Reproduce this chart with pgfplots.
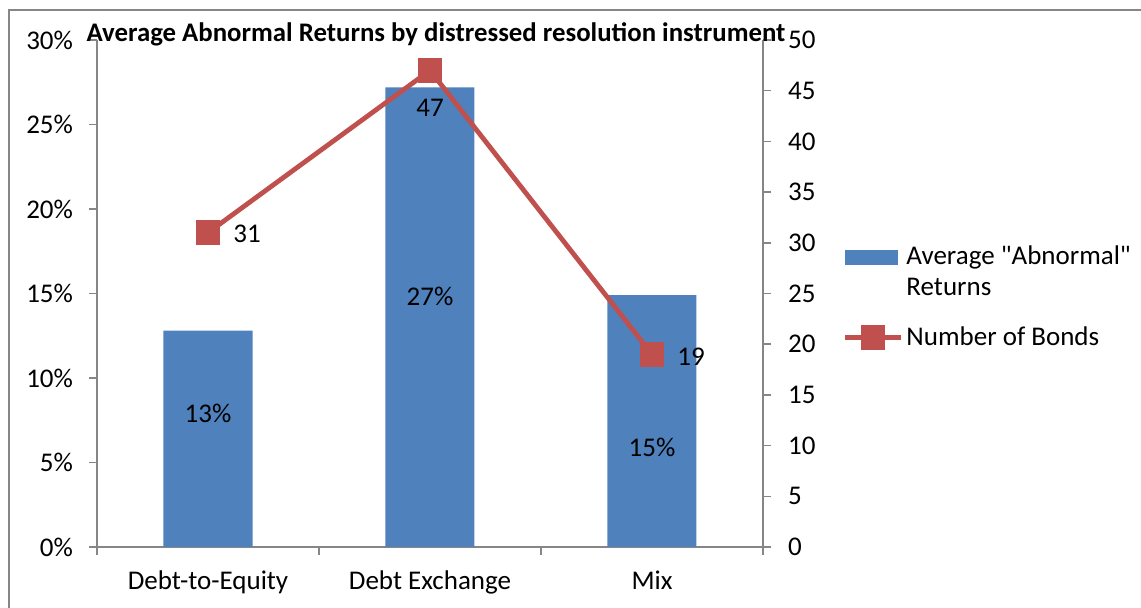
\documentclass[border=0pt]{standalone}
\usepackage{pgfplots}
\pgfplotsset{compat=1.18}
\usepackage{fontspec}
\setmainfont{Carlito}
\definecolor{barblue}{HTML}{4F81BD}
\definecolor{linered}{HTML}{C0504D}
\definecolor{axgray}{HTML}{868686}
\newcommand{\lblfont}{\fontsize{13.5}{15.5}\selectfont}
\begin{document}
\begin{tikzpicture}[x=1pt,y=1pt]
\useasboundingbox (0,0) rectangle (570.5,304);
\draw[axgray, line width=0.75pt] (4.5,0) -- (4.5,299) -- (570.5,299);
\begin{axis}[
  at={(48.5pt,30.5pt)}, anchor=south west,
  width=333pt, height=253.5pt, scale only axis,
  xmin=-0.5, xmax=2.5, ymin=0, ymax=30,
  axis y line*=left, axis x line*=bottom,
  axis line style={axgray, line width=0.75pt, -},
  xtick={-0.5,0.5,1.5,2.5}, xticklabels={},
  ytick={0,5,10,15,20,25,30}, yticklabels={0\%,5\%,10\%,15\%,20\%,25\%,30\%},
  tick align=outside, major tick length=4pt,
  every tick/.style={axgray, line width=0.75pt},
  ticklabel style={font=\lblfont},
  yticklabel style={xshift=-4.5pt},
  clip=false,
]
\addplot[ybar, bar width=44.5pt, fill=barblue, draw=none] coordinates {(0,12.8) (1,27.2) (2,14.9)};
\node[font=\lblfont] at (axis cs:0,7.93) {13\%};
\node[font=\lblfont] at (axis cs:1,14.85) {27\%};
\node[font=\lblfont] at (axis cs:2,5.92) {15\%};
\node[font=\lblfont, anchor=base] at (axis cs:0,0) [yshift=-21.5pt] {Debt-to-Equity};
\node[font=\lblfont, anchor=base] at (axis cs:1,0) [yshift=-21.5pt] {Debt Exchange};
\node[font=\lblfont, anchor=base] at (axis cs:2,0) [yshift=-21.5pt] {Mix};
\end{axis}
\begin{axis}[
  at={(48.5pt,30.5pt)}, anchor=south west,
  width=333pt, height=253.5pt, scale only axis,
  xmin=-0.5, xmax=2.5, ymin=0, ymax=50,
  axis y line*=right, axis x line=none,
  axis line style={axgray, line width=0.75pt, -},
  ytick={0,5,10,15,20,25,30,35,40,45,50},
  yticklabels={0,5,10,15,20,25,30,35,40,45,50},
  tick align=outside, major tick length=4pt,
  every tick/.style={axgray, line width=0.75pt},
  ticklabel style={font=\lblfont},
  yticklabel style={xshift=5pt},
  clip=false,
  legend cell align=left,
  legend style={at={(1.119,0.493)}, anchor=west, draw=none, fill=none, inner sep=0pt,
    font=\lblfont, nodes={align=left, inner xsep=1.5pt}, row sep=10pt,
    /tikz/every even column/.append style={column sep=0pt}},
]
\addlegendimage{legend image code/.code={\fill[barblue] (0pt,4pt) rectangle (26pt,11pt);}}
\addlegendentry{Average \textquotedbl Abnormal\textquotedbl\\Returns}
\addplot[linered, line width=2.4pt, mark=square*, mark size=5pt, mark options={solid, fill=linered},
  legend image code/.code={\draw[linered, line width=2.4pt] (0pt,0pt) -- (28pt,0pt); \fill[linered] (9pt,-5pt) rectangle (19pt,5pt);}]
  coordinates {(0,31) (1,47) (2,19)};
\addlegendentry{Number of Bonds}
\node[font=\lblfont] at (axis cs:0.176,30.9) {31};
\node[font=\lblfont] at (axis cs:1.0,43.3) {47};
\node[font=\lblfont] at (axis cs:2.176,18.8) {19};
\end{axis}
\node[font=\bfseries\fontsize{13.4}{16}\selectfont, anchor=base] at (218,283) {Average Abnormal Returns by distressed resolution instrument};
\end{tikzpicture}
\end{document}
